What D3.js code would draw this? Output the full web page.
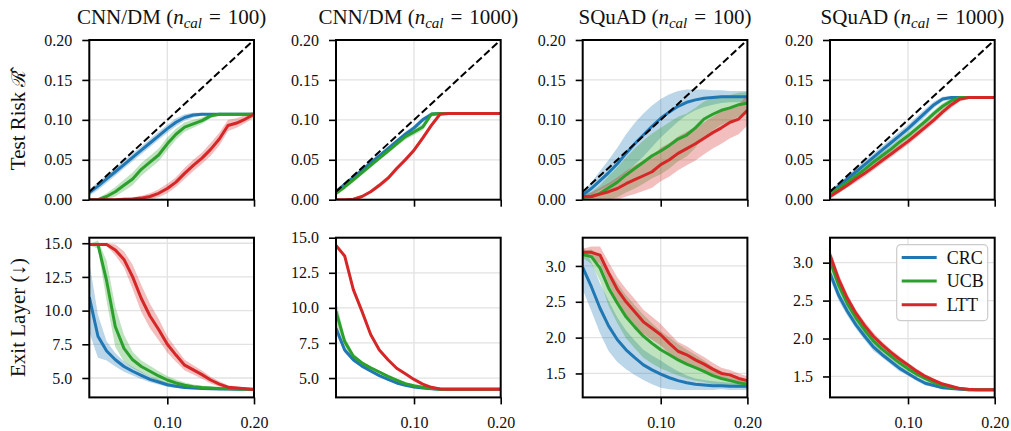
<!DOCTYPE html>
<html><head><meta charset="utf-8">
<script src="https://cdn.jsdelivr.net/npm/d3@7"></script>
<style>
html,body{margin:0;padding:0;background:#fff;}
svg{display:block;}
text{font-family:"Liberation Serif","DejaVu Serif",serif;fill:#111;}
</style></head>
<body><svg id="chart" width="1011" height="431"></svg>
<script>
// ---------------- DATA ----------------
const xs = [0.01,0.02,0.03,0.04,0.05,0.06,0.07,0.08,0.09,0.10,0.11,0.12,0.13,0.14,0.15,0.16,0.17,0.18,0.19,0.20];
const methods = ["CRC","UCB","LTT"];
const datasets = ["CNN/DM","CNN/DM","SQuAD","SQuAD"];
const nCal = ["100","1000","100","1000"];
const xTicks = [0.10,0.20];
const riskTicks = [0.00,0.05,0.10,0.15,0.20];
const exitTicksCnn = [5.0,7.5,10.0,12.5,15.0];
const exitTicksSquad = [1.5,2.0,2.5,3.0];
const riskLimits = [0,0.20];
const exitLimits = [[3.56,15.41],[3.62,15.0],[1.166,3.394],[1.224,3.329]];

// Test risk, CNN/DM n=100
const riskCnn100CRC = [0.009,0.017,0.026,0.035,0.044,0.053,0.062,0.071,0.080,0.089,0.097,0.103,0.106,0.107,0.107,0.107,0.107,0.107,0.107,0.107];
const riskCnn100UCB = [0.000,0.000,0.004,0.010,0.018,0.026,0.038,0.047,0.056,0.070,0.082,0.091,0.095,0.099,0.105,0.107,0.107,0.107,0.107,0.107];
const riskCnn100LTT = [0.000,0.000,0.000,0.000,0.0005,0.001,0.002,0.004,0.008,0.014,0.022,0.033,0.043,0.052,0.063,0.076,0.093,0.096,0.101,0.107];
const riskCnn100CRCsd = [0.004,0.005,0.005,0.005,0.005,0.005,0.005,0.005,0.005,0.005,0.005,0.004,0.003,0.002,0.001,0.001,0.001,0.001,0.001,0.001];
const riskCnn100UCBsd = [0.001,0.002,0.004,0.006,0.007,0.008,0.008,0.008,0.008,0.008,0.007,0.006,0.005,0.004,0.003,0.002,0.001,0.001,0.001,0.001];
const riskCnn100LTTsd = [0.000,0.000,0.001,0.001,0.002,0.002,0.003,0.004,0.005,0.006,0.006,0.007,0.007,0.007,0.008,0.008,0.007,0.006,0.005,0.004];
// Test risk, CNN/DM n=1000
const riskCnn1000CRC = [0.010,0.019,0.028,0.037,0.046,0.055,0.064,0.073,0.082,0.090,0.100,0.107,0.108,0.108,0.108,0.108,0.108,0.108,0.108,0.108];
const riskCnn1000UCB = [0.008,0.016,0.025,0.034,0.043,0.052,0.061,0.070,0.079,0.085,0.091,0.107,0.108,0.108,0.108,0.108,0.108,0.108,0.108,0.108];
const riskCnn1000LTT = [0.000,0.000,0.0005,0.004,0.010,0.018,0.027,0.039,0.050,0.062,0.077,0.093,0.107,0.108,0.108,0.108,0.108,0.108,0.108,0.108];
const riskCnn1000CRCsd = [0.003,0.003,0.003,0.003,0.003,0.003,0.003,0.003,0.003,0.003,0.003,0.002,0.001,0.001,0.001,0.001,0.001,0.001,0.001,0.001];
const riskCnn1000UCBsd = [0.003,0.003,0.003,0.003,0.003,0.003,0.003,0.003,0.004,0.004,0.004,0.003,0.001,0.001,0.001,0.001,0.001,0.001,0.001,0.001];
const riskCnn1000LTTsd = [0.000,0.000,0.001,0.002,0.002,0.003,0.003,0.003,0.003,0.003,0.003,0.003,0.002,0.001,0.001,0.001,0.001,0.001,0.001,0.001];
// Test risk, SQuAD n=100
const riskSquad100CRC = [0.006,0.014,0.024,0.034,0.045,0.058,0.070,0.081,0.092,0.102,0.110,0.117,0.122,0.125,0.127,0.128,0.129,0.129,0.129,0.129];
const riskSquad100UCB = [0.003,0.004,0.008,0.015,0.022,0.031,0.039,0.047,0.055,0.061,0.068,0.076,0.081,0.090,0.101,0.107,0.112,0.115,0.119,0.121];
const riskSquad100LTT = [0.004,0.004,0.007,0.010,0.014,0.020,0.025,0.030,0.035,0.044,0.050,0.058,0.064,0.070,0.077,0.084,0.090,0.097,0.101,0.112];
const riskSquad100CRCsd = [0.004,0.008,0.012,0.016,0.020,0.024,0.026,0.027,0.026,0.024,0.022,0.019,0.016,0.013,0.011,0.009,0.008,0.007,0.007,0.007];
const riskSquad100UCBsd = [0.003,0.006,0.010,0.015,0.019,0.022,0.025,0.027,0.028,0.029,0.029,0.028,0.027,0.025,0.022,0.020,0.018,0.016,0.015,0.014];
const riskSquad100LTTsd = [0.003,0.005,0.008,0.011,0.014,0.016,0.018,0.019,0.020,0.021,0.021,0.021,0.021,0.021,0.020,0.020,0.020,0.020,0.019,0.019];
// Test risk, SQuAD n=1000
const riskSquad1000CRC = [0.008,0.017,0.026,0.035,0.044,0.053,0.062,0.071,0.080,0.089,0.099,0.109,0.119,0.126,0.128,0.128,0.128,0.128,0.128,0.128];
const riskSquad1000UCB = [0.006,0.014,0.022,0.030,0.038,0.047,0.055,0.063,0.072,0.080,0.089,0.098,0.108,0.117,0.124,0.128,0.128,0.128,0.128,0.128];
const riskSquad1000LTT = [0.004,0.011,0.018,0.026,0.033,0.041,0.049,0.057,0.065,0.073,0.082,0.091,0.100,0.110,0.119,0.126,0.128,0.128,0.128,0.128];
const riskSquad1000CRCsd = [0.004,0.004,0.004,0.005,0.005,0.005,0.005,0.005,0.005,0.005,0.005,0.005,0.004,0.003,0.002,0.001,0.001,0.001,0.001,0.001];
const riskSquad1000UCBsd = [0.003,0.003,0.004,0.004,0.004,0.004,0.004,0.004,0.004,0.004,0.004,0.004,0.004,0.004,0.003,0.002,0.001,0.001,0.001,0.001];
const riskSquad1000LTTsd = [0.003,0.003,0.003,0.004,0.004,0.004,0.004,0.004,0.004,0.004,0.004,0.004,0.004,0.004,0.004,0.003,0.002,0.001,0.001,0.001];

// Exit layer, CNN/DM n=100
const exitCnn100CRC = [11.0,8.1,7.0,6.35,5.85,5.5,5.2,4.9,4.7,4.5,4.38,4.3,4.25,4.22,4.2,4.19,4.18,4.17,4.16,4.15];
const exitCnn100UCB = [14.9,14.9,12.2,8.8,7.2,6.35,5.85,5.5,5.15,4.85,4.63,4.46,4.36,4.3,4.26,4.22,4.2,4.18,4.17,4.16];
const exitCnn100LTT = [14.9,14.9,14.9,14.5,13.8,12.5,10.9,9.6,8.6,7.5,6.7,5.95,5.6,5.25,4.85,4.55,4.32,4.26,4.21,4.15];
const exitCnn100CRCsd = [2.6,1.6,0.7,0.5,0.38,0.32,0.27,0.22,0.18,0.15,0.12,0.1,0.08,0.06,0.05,0.04,0.03,0.03,0.03,0.03];
const exitCnn100UCBsd = [0.05,0.3,1.5,1.5,1.0,0.6,0.45,0.4,0.35,0.3,0.25,0.2,0.15,0.12,0.1,0.08,0.06,0.05,0.04,0.03];
const exitCnn100LTTsd = [0.05,0.05,0.1,0.4,0.6,0.9,1.0,0.9,0.8,0.6,0.5,0.4,0.35,0.3,0.25,0.2,0.15,0.1,0.08,0.06];
// Exit layer, CNN/DM n=1000
const exitCnn1000CRC = [8.55,7.0,6.3,5.85,5.5,5.17,4.9,4.65,4.48,4.36,4.29,4.24,4.2,4.2,4.2,4.2,4.2,4.2,4.2,4.2];
const exitCnn1000UCB = [9.75,7.6,6.55,6.07,5.72,5.43,5.12,4.85,4.6,4.45,4.34,4.25,4.2,4.2,4.2,4.2,4.2,4.2,4.2,4.2];
const exitCnn1000LTT = [14.45,13.7,11.3,9.75,8.1,7.0,6.3,5.7,5.3,4.9,4.57,4.34,4.22,4.2,4.2,4.2,4.2,4.2,4.2,4.2];
const exitCnn1000CRCsd = [0.4,0.2,0.15,0.12,0.1,0.08,0.07,0.06,0.05,0.04,0.03,0.02,0.02,0.02,0.02,0.02,0.02,0.02,0.02,0.02];
const exitCnn1000UCBsd = [0.8,0.35,0.2,0.15,0.12,0.1,0.08,0.07,0.06,0.05,0.04,0.03,0.02,0.02,0.02,0.02,0.02,0.02,0.02,0.02];
const exitCnn1000LTTsd = [0.1,0.1,0.1,0.1,0.1,0.08,0.07,0.06,0.05,0.04,0.03,0.03,0.02,0.02,0.02,0.02,0.02,0.02,0.02,0.02];
// Exit layer, SQuAD n=100
const exitSquad100CRC = [2.98,2.71,2.41,2.16,1.97,1.83,1.72,1.62,1.55,1.49,1.44,1.40,1.37,1.35,1.34,1.33,1.33,1.32,1.32,1.32];
const exitSquad100UCB = [3.16,3.13,2.97,2.69,2.48,2.29,2.15,2.02,1.92,1.83,1.76,1.69,1.63,1.58,1.53,1.47,1.43,1.40,1.37,1.35];
const exitSquad100LTT = [3.19,3.19,3.15,2.90,2.67,2.50,2.36,2.22,2.13,2.04,1.92,1.81,1.76,1.69,1.63,1.56,1.50,1.48,1.43,1.40];
const exitSquad100CRCsd = [0.31,0.34,0.35,0.35,0.31,0.27,0.24,0.21,0.2,0.19,0.16,0.13,0.1,0.08,0.07,0.06,0.05,0.05,0.05,0.05];
const exitSquad100UCBsd = [0.05,0.1,0.18,0.25,0.28,0.3,0.3,0.3,0.28,0.26,0.24,0.22,0.2,0.18,0.15,0.12,0.1,0.08,0.07,0.06];
const exitSquad100LTTsd = [0.05,0.08,0.12,0.15,0.17,0.18,0.18,0.17,0.16,0.15,0.14,0.13,0.12,0.11,0.1,0.09,0.08,0.07,0.07,0.06];
// Exit layer, SQuAD n=1000
const exitSquad1000CRC = [2.86,2.57,2.36,2.18,2.03,1.89,1.79,1.70,1.61,1.54,1.47,1.41,1.38,1.35,1.34,1.33,1.325,1.325,1.325,1.325];
const exitSquad1000UCB = [3.02,2.70,2.46,2.27,2.11,1.97,1.86,1.77,1.68,1.60,1.53,1.47,1.42,1.38,1.355,1.34,1.325,1.325,1.325,1.325];
const exitSquad1000LTT = [3.10,2.78,2.53,2.33,2.17,2.03,1.92,1.82,1.73,1.65,1.57,1.50,1.45,1.40,1.37,1.34,1.33,1.325,1.325,1.325];
const exitSquad1000CRCsd = [0.08,0.07,0.06,0.05,0.05,0.05,0.04,0.04,0.04,0.03,0.03,0.03,0.02,0.02,0.01,0.01,0.01,0.01,0.01,0.01];
const exitSquad1000UCBsd = [0.08,0.07,0.06,0.05,0.05,0.05,0.04,0.04,0.04,0.03,0.03,0.03,0.02,0.02,0.01,0.01,0.01,0.01,0.01,0.01];
const exitSquad1000LTTsd = [0.08,0.07,0.06,0.05,0.05,0.05,0.04,0.04,0.04,0.03,0.03,0.03,0.02,0.02,0.01,0.01,0.01,0.01,0.01,0.01];

// ---------------- ASSEMBLY ----------------
const colors = {CRC:"#1f77b4", UCB:"#2ca02c", LTT:"#d62728"};
const panels = [
  [ {CRC:[riskCnn100CRC,riskCnn100CRCsd],UCB:[riskCnn100UCB,riskCnn100UCBsd],LTT:[riskCnn100LTT,riskCnn100LTTsd]},
    {CRC:[riskCnn1000CRC,riskCnn1000CRCsd],UCB:[riskCnn1000UCB,riskCnn1000UCBsd],LTT:[riskCnn1000LTT,riskCnn1000LTTsd]},
    {CRC:[riskSquad100CRC,riskSquad100CRCsd],UCB:[riskSquad100UCB,riskSquad100UCBsd],LTT:[riskSquad100LTT,riskSquad100LTTsd]},
    {CRC:[riskSquad1000CRC,riskSquad1000CRCsd],UCB:[riskSquad1000UCB,riskSquad1000UCBsd],LTT:[riskSquad1000LTT,riskSquad1000LTTsd]} ],
  [ {CRC:[exitCnn100CRC,exitCnn100CRCsd],UCB:[exitCnn100UCB,exitCnn100UCBsd],LTT:[exitCnn100LTT,exitCnn100LTTsd]},
    {CRC:[exitCnn1000CRC,exitCnn1000CRCsd],UCB:[exitCnn1000UCB,exitCnn1000UCBsd],LTT:[exitCnn1000LTT,exitCnn1000LTTsd]},
    {CRC:[exitSquad100CRC,exitSquad100CRCsd],UCB:[exitSquad100UCB,exitSquad100UCBsd],LTT:[exitSquad100LTT,exitSquad100LTTsd]},
    {CRC:[exitSquad1000CRC,exitSquad1000CRCsd],UCB:[exitSquad1000UCB,exitSquad1000UCBsd],LTT:[exitSquad1000LTT,exitSquad1000LTTsd]} ]
];

// ---------------- LAYOUT ----------------
const svg = d3.select("#chart");
const colX = [89.3, 336, 582.7, 830];
const pw = 164.7;
const rowY = [40, 237.7];
const ph = 159.7;
const tickLen = 7;
const serif = '"Liberation Serif","DejaVu Serif",serif';

panels.forEach((row, r) => {
  row.forEach((pd, c) => {
    const x0 = colX[c], y0 = rowY[r];
    const g = svg.append("g").attr("transform", `translate(${x0},${y0})`);
    const x = d3.scaleLinear().domain([0.01, 0.20]).range([0, pw]);
    const y = d3.scaleLinear().domain(r === 0 ? riskLimits : exitLimits[c]).range([ph, 0]);
    const yt = r === 0 ? riskTicks : (c < 2 ? exitTicksCnn : exitTicksSquad);

    const cid = `clip-${r}-${c}`;
    g.append("clipPath").attr("id", cid).append("rect").attr("width", pw).attr("height", ph);
    const plot = g.append("g").attr("clip-path", `url(#${cid})`);

    // grid
    plot.selectAll(".gy").data(yt).join("line")
      .attr("x1", 0).attr("x2", pw).attr("y1", d => y(d)).attr("y2", d => y(d))
      .attr("stroke", "#e2e2e2").attr("stroke-width", 1.3);
    plot.selectAll(".gx").data(xTicks).join("line")
      .attr("x1", d => x(d)).attr("x2", d => x(d)).attr("y1", 0).attr("y2", ph)
      .attr("stroke", "#e2e2e2").attr("stroke-width", 1.3);

    // bands
    methods.forEach(m => {
      const [mean, sd] = pd[m];
      const area = d3.area().x((d, i) => x(xs[i])).y0((d, i) => y(mean[i] - sd[i])).y1((d, i) => y(mean[i] + sd[i]));
      plot.append("path").datum(mean).attr("d", area)
        .attr("fill", colors[m]).attr("fill-opacity", 0.3).attr("stroke", "none");
    });
    // lines
    methods.forEach(m => {
      const [mean] = pd[m];
      const line = d3.line().x((d, i) => x(xs[i])).y(d => y(d));
      plot.append("path").datum(mean).attr("d", line)
        .attr("fill", "none").attr("stroke", colors[m]).attr("stroke-width", 3)
        .attr("stroke-linejoin", "round");
    });
    // diagonal
    if (r === 0) {
      const diag = d3.line().x(d => x(d)).y(d => y(d));
      plot.append("path").datum([0.01, 0.20]).attr("d", diag)
        .attr("fill", "none").attr("stroke", "#000").attr("stroke-width", 2)
        .attr("stroke-dasharray", "7.4,3.2");
    }

    // axes
    const yAxis = d3.axisLeft(y).tickValues(yt).tickSize(tickLen).tickPadding(10)
      .tickFormat(r === 0 ? d3.format(".2f") : d3.format(".1f"));
    const ga = g.append("g").call(yAxis);
    const xAxis = d3.axisBottom(x).tickValues(xTicks).tickSize(tickLen).tickPadding(12)
      .tickFormat(r === 1 ? d3.format(".2f") : () => "");
    const gb = g.append("g").attr("transform", `translate(0,${ph})`).call(xAxis);
    [ga, gb].forEach(a => {
      a.select(".domain").remove();
      a.selectAll(".tick line").attr("stroke", "#000").attr("stroke-width", 1.6);
      a.selectAll(".tick text").attr("font-size", 16).attr("fill", "#222")
        .style("font-family", serif);
    });

    // frame
    g.append("rect").attr("width", pw).attr("height", ph)
      .attr("fill", "none").attr("stroke", "#000").attr("stroke-width", 2);

    // title
    if (r === 0) {
      const t = g.append("text").attr("x", pw / 2).attr("y", -16)
        .attr("text-anchor", "middle").attr("font-size", 21);
      t.append("tspan").text(datasets[c] + " (");
      t.append("tspan").attr("font-style", "italic").text("n");
      t.append("tspan").attr("font-style", "italic").attr("font-size", 15).attr("dy", 4).text("cal");
      t.append("tspan").attr("dy", -4).text("\u2004=\u2004" + nCal[c] + ")");
    }
  });
});

// y labels
const yl1 = svg.append("text").attr("transform", `translate(25,${rowY[0] + ph / 2}) rotate(-90)`)
  .attr("text-anchor", "middle").attr("font-size", 21);
yl1.append("tspan").text("Test Risk ");
yl1.append("tspan").style("font-family", '"DejaVu Serif",serif').attr("font-size", 19).text("\u211B\u0302");
svg.append("text").attr("transform", `translate(25,${rowY[1] + ph / 2}) rotate(-90)`)
  .attr("text-anchor", "middle").attr("font-size", 21).text("Exit Layer (\u2193)");

// legend
const lg = svg.append("g").attr("transform", `translate(${colX[3] + pw - 98},${rowY[1] + 7})`);
lg.append("rect").attr("width", 91).attr("height", 76).attr("rx", 4)
  .attr("fill", "#fff").attr("fill-opacity", 0.85).attr("stroke", "#cccccc").attr("stroke-width", 1.2);
methods.forEach((m, i) => {
  const yy = 12.7 + i * 23.7;
  lg.append("line").attr("x1", 5).attr("x2", 40).attr("y1", yy).attr("y2", yy)
    .attr("stroke", colors[m]).attr("stroke-width", 3);
  lg.append("text").attr("x", 50).attr("y", yy).attr("dy", "0.35em").attr("font-size", 18).text(m);
});
</script></body></html>
